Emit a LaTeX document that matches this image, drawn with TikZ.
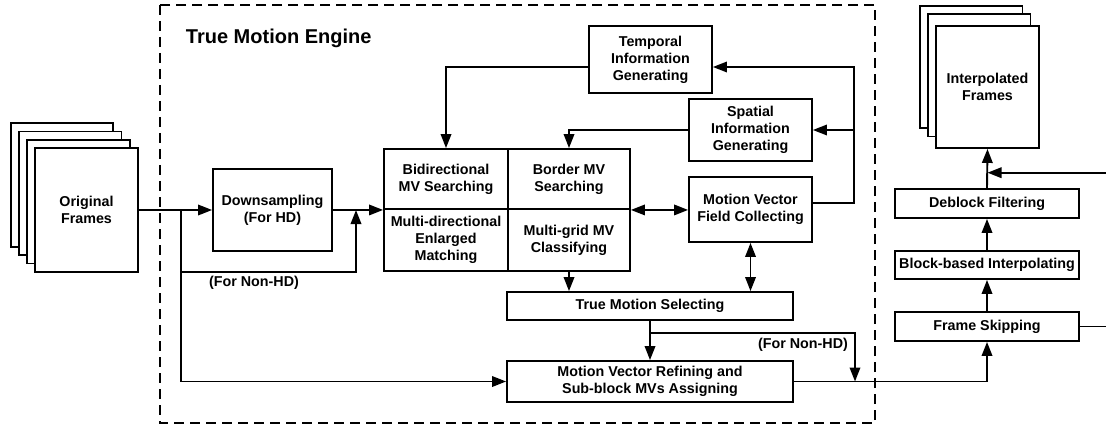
\documentclass[tikz,border=0pt]{standalone}
\usepackage{fontspec}
\setmainfont{Liberation Sans}
\usetikzlibrary{arrows.meta,calc}

\begin{document}
\begin{tikzpicture}[x=1pt,y=-1pt,
  line width=1.9pt,
  every node/.style={font=\bfseries\fontsize{14.3}{17}\selectfont, align=center},
  box/.style={draw, fill=white, inner sep=0pt},
  frame/.style={draw, fill=white},
  arr/.style={-{Triangle[length=14pt,width=10.5pt]}},
  dar/.style={{Triangle[length=14pt,width=10.5pt]}-{Triangle[length=14pt,width=10.5pt]}},
  lbl/.style={inner sep=0pt},
  engine/.style={line width=1.7pt, dash pattern=on 10pt off 6pt}
]
\useasboundingbox (0,0) rectangle (1106,425);

% engine boundary
\draw[engine] (160,5) rectangle (875,423);
\node[lbl, anchor=base west, font=\bfseries\fontsize{20}{23}\selectfont] (title) at (185,44) {True Motion Engine};

% input frame stack
\draw[frame] (11,123) rectangle (113,247);
\draw[frame] (19,131.5) rectangle (121.5,255);
\draw[frame] (27,140) rectangle (130,263.5);
\node[box, minimum width=103pt, minimum height=124pt] (orig) at (86.5,210) {Original\\Frames};

% output frame stack
\draw[frame] (920,6) rectangle (1022.5,128);
\draw[frame] (928,14) rectangle (1030.5,136.5);
\node[box, minimum width=103pt, minimum height=122pt] (interp) at (987.5,87) {Interpolated\\Frames};

% processing blocks
\node[box, minimum width=119pt, minimum height=82pt] (down) at (272.5,210) {Downsampling\\(For HD)};
\node[box, minimum width=124pt, minimum height=60pt] (bi) at (446,179) {Bidirectional\\MV Searching};
\node[box, minimum width=122pt, minimum height=60pt] (bo) at (569,179) {Border MV\\Searching};
\node[box, minimum width=124pt, minimum height=62pt] (md) at (446,240) {Multi-directional\\Enlarged\\Matching};
\node[box, minimum width=122pt, minimum height=62pt] (mg) at (569,240) {Multi-grid MV\\Classifying};
\node[box, minimum width=123pt, minimum height=67pt] (temp) at (650.5,59.5) {Temporal\\Information\\Generating};
\node[box, minimum width=123pt, minimum height=62pt] (spat) at (750.5,130) {Spatial\\Information\\Generating};
\node[box, minimum width=123pt, minimum height=65pt] (mvfc) at (750.5,209.5) {Motion Vector\\Field Collecting};
\node[box, minimum width=286pt, minimum height=28pt] (tms) at (650,306) {True Motion Selecting};
\node[box, minimum width=286pt, minimum height=41pt] (mvr) at (650,381.5) {Motion Vector Refining and\\Sub-block MVs Assigning};
\node[box, minimum width=184pt, minimum height=29pt] (fs) at (987,326.5) {Frame Skipping};
\node[box, minimum width=184pt, minimum height=28pt] (bbi) at (987,265) {Block-based Interpolating};
\node[box, minimum width=184pt, minimum height=29pt] (dbf) at (987,203.5) {Deblock Filtering};

% routing points
\coordinate (j1) at (181,210);
\coordinate (j2) at (181,272);
\coordinate (j3) at (356,210);
\coordinate (tin) at ($(temp.east)+(0,7.5)$);
\coordinate (tout) at ($(temp.west)+(0,7.5)$);
\coordinate (mout) at ($(mvfc.east)+(0,-6.5)$);
\coordinate (fbx) at (854,0);
\coordinate (b2) at ($(tms.south)+(0,12)$);
\coordinate (nh) at (855,0);
\coordinate (rin) at (1106,172.7);
\coordinate (rout) at (1106,326.5);

% input side
\draw[arr] (orig.east) -- (down.west);
\draw[arr] (down.east) -- (bi.south west);
\draw[arr] (j1) -- (j2) -| (j3);
\draw[arr] (j2) |- (mvr.west);
\node[lbl] (nonhd1) at (254,283) {(For Non-HD)};

% engine connections
\draw[arr] (tout) -| (bi.north);
\draw[arr] (spat.west) -| (bo.north);
\draw[dar] (bo.south east) -- (bo.south east -| mvfc.west);
\draw[arr] (mout) -| (fbx |- tin) -- (tin);
\draw[arr] (fbx |- spat.east) -- (spat.east);
\draw[arr] (mg.south) -- (mg.south |- tms.north);
\draw[dar] (mvfc.south) -- (mvfc.south |- tms.north);
\draw[arr] (tms.south) -- (mvr.north);
\draw[arr] (b2) -| (nh |- mvr.east);
\node[lbl] (nonhd2) at (803,345) {(For Non-HD)};

% output side
\draw[arr] (mvr.east) -| (fs.south);
\draw[arr] (fs.north) -- (bbi.south);
\draw[arr] (bbi.north) -- (dbf.south);
\draw[arr] (dbf.north) -- (interp.south);
\draw[arr] (rin) -- (rin -| interp.south);
\draw (fs.east) -- (rout);
\end{tikzpicture}
\end{document}
